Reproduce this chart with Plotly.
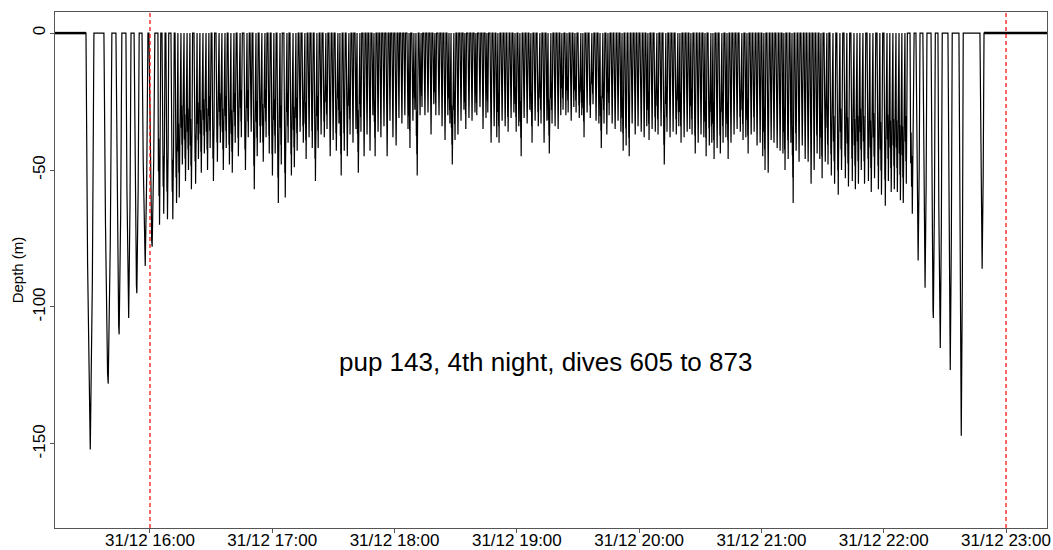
import numpy as np
import pandas as pd
import plotly.graph_objects as go

# Reference clock: minutes below are counted from 31/12 16:00
t0 = pd.Timestamp("2016-12-31 16:00:00")

# Dive start times (minutes after 16:00)
dive_start = [
    -31.4, -22.6, -16.7, -11.8, -7.8, -3.9, -0.5,
    3.9, 5.9, 7.8, 10.3, 12.3, 13.7, 15.2, 16.7, 18.2, 19.6,
    21.6, 23.1, 24.5, 26.0, 27.5, 28.9, 30.4, 32.4, 33.9, 35.3,
    36.8, 38.3, 39.7, 41.2, 42.7, 44.2, 46.1, 47.6,
    49.1, 50.5, 52.0, 53.5, 54.9, 56.4, 57.9, 59.4, 60.8, 62.3,
    63.8, 65.7, 67.2, 68.7, 70.2, 71.6, 73.1, 74.6, 76.0, 77.5,
    79.0, 80.5, 81.9, 83.4, 84.9, 86.3, 87.8, 89.3, 90.8, 92.2,
    93.2, 94.7, 96.2, 97.6,
    99.1, 100.6, 101.6, 103.0, 104.5, 106.0, 107.4, 108.9, 109.9, 111.4,
    112.8, 114.3, 115.8, 117.3, 118.7, 120.2, 121.7, 123.1, 124.6, 126.1,
    127.1, 128.5, 129.5, 130.5, 132.0, 133.0, 134.4, 135.9, 137.4, 138.8,
    139.8, 141.3, 142.8, 144.2, 145.7, 146.7, 147.7, 149.1, 150.6, 152.1,
    153.6, 154.5, 156.0, 157.5, 159.0, 159.9, 161.4, 162.9, 164.4, 165.3,
    166.8, 168.3, 169.7, 170.7, 172.2, 173.7, 175.1, 176.6, 178.1, 179.1,
    180.5, 181.5, 183.0, 184.5, 185.9, 186.9, 188.4, 189.9, 191.3, 192.8,
    194.3, 195.3, 196.7, 198.2, 199.7, 201.1, 202.1, 203.6, 204.6, 206.1,
    207.5, 208.5, 210.0, 211.4, 212.4, 213.9, 215.4, 216.8, 218.3, 219.8,
    220.8, 222.2, 223.7, 224.7, 226.2, 227.6, 229.1, 230.6, 231.6, 233.0,
    234.5, 236.0, 237.5, 238.9, 240.4, 241.9, 243.3, 244.3, 245.8, 247.3,
    248.7,
    250.2, 251.7, 253.1, 254.6, 256.1, 257.6, 259.0, 260.0, 261.5, 263.0,
    264.4, 265.4, 266.9, 268.4, 269.8, 271.3, 272.3, 273.8, 275.2, 276.2,
    277.7, 279.2, 280.6, 282.1, 283.1, 284.5, 286.0, 287.5, 289.0, 290.4,
    291.9, 292.9, 294.4, 295.8, 297.3, 298.8, 300.2, 301.2, 302.7, 304.2,
    305.6, 307.1, 308.6, 310.1, 311.0, 312.5, 314.0, 315.0, 316.4, 317.9,
    319.4, 320.9, 322.3, 323.8, 325.3, 326.7, 328.2, 329.2, 330.7, 332.1,
    333.6, 335.1, 337.0, 338.5, 340.5, 341.9, 343.9, 345.4, 346.9, 348.3,
    349.8, 351.8, 353.2, 354.7, 356.7, 358.1, 360.1, 361.6, 363.0, 364.5,
    366.0, 367.5, 368.9, 370.4,
    372.9, 375.8, 379.2, 383.2, 386.6, 391.5, 396.9, 407.2,
]

# Maximum depth of each dive (m)
dive_depth = [
    152, 128, 110, 104, 95, 85, 78,
    70, 66, 68, 68, 62, 60, 48, 54, 50, 57,
    55, 46, 51, 44, 50, 42, 54, 47, 40, 50,
    42, 48, 51, 40, 45, 38, 50, 38,
    36, 57, 45, 40, 47, 38, 44, 52, 44, 62,
    48, 60, 40, 52, 49, 43, 36, 40, 46, 38,
    42, 54, 42, 37, 38, 35, 45, 39, 43, 33,
    52, 43, 45, 37,
    40, 35, 51, 36, 45, 37, 43, 30, 45, 36,
    38, 34, 45, 32, 38, 41, 31, 33, 30, 35,
    42, 32, 28, 52, 30, 27, 30, 29, 37, 26,
    30, 30, 34, 39, 30, 33, 48, 39, 37, 32,
    28, 35, 31, 32, 29, 30, 27, 35, 31, 29,
    40, 34, 38, 40, 32, 34, 36, 31, 29, 36,
    34, 45, 31, 33, 28, 40, 32, 34, 33, 40,
    32, 44, 33, 34, 35, 30, 28, 30, 29, 32,
    27, 29, 31, 30, 38, 29, 31, 26, 32, 33,
    42, 33, 37, 30, 33, 35, 32, 36, 43, 41,
    45, 33, 37, 34, 36, 38, 34, 39, 35, 36,
    37,
    34, 48, 36, 38, 36, 37, 34, 40, 38, 36,
    35, 37, 44, 40, 37, 38, 45, 41, 40, 46,
    42, 44, 40, 38, 46, 40, 37, 35, 36, 39,
    38, 44, 37, 36, 41, 40, 45, 50, 51, 39,
    40, 42, 43, 44, 50, 46, 40, 62, 43, 47,
    41, 46, 47, 55, 50, 44, 46, 53, 47, 48,
    52, 55, 59, 50, 53, 56, 54, 57, 55, 50,
    55, 54, 58, 53, 57, 59, 63, 54, 58, 57,
    58, 61, 62, 55,
    66, 83, 93, 104, 115, 123, 147, 86,
]

# Dive durations (min)
dive_duration = [
    3.9, 3.9, 2.9, 2.5, 2.5, 2.9, 2.9,
    1.4, 1.5, 1.4, 1.6, 1.3, 1.2, 1.2, 1.3, 1.2, 1.3,
    1.4, 1.2, 1.2, 1.2, 1.3, 1.1, 1.3, 1.2, 1.1, 1.2,
    1.1, 1.2, 1.2, 1.1, 1.2, 1.1, 1.3, 1.1,
    1.0, 1.2, 1.1, 1.1, 1.2, 1.0, 1.1, 1.2, 1.1, 1.2,
    1.1, 1.2, 1.0, 1.2, 1.1, 1.1, 1.0, 1.1, 1.1, 1.0,
    1.1, 1.2, 1.1, 1.0, 1.1, 1.0, 1.1, 1.0, 1.1, 0.9,
    1.1, 1.1, 1.1, 1.0,
    0.9, 0.8, 1.1, 0.9, 1.0, 0.9, 1.0, 0.8, 1.0, 0.9,
    0.9, 0.9, 1.0, 0.8, 0.9, 1.0, 0.8, 0.9, 0.8, 0.9,
    0.8, 0.9, 0.8, 1.1, 0.9, 0.8, 0.9, 0.9, 0.9, 0.8,
    0.8, 0.9, 0.9, 1.0, 0.8, 0.8, 1.1, 1.0, 0.9, 0.9,
    0.8, 0.8, 0.9, 0.9, 0.8, 0.8, 0.9, 0.9, 0.8, 0.8,
    1.0, 1.0, 0.8, 1.0, 1.0, 1.0, 1.1, 1.0, 0.8, 1.0,
    0.8, 1.1, 1.0, 1.0, 0.8, 1.0, 1.0, 1.1, 1.0, 1.0,
    0.8, 1.1, 1.0, 1.0, 1.0, 0.8, 1.0, 0.8, 1.0, 1.0,
    0.8, 1.0, 1.1, 0.8, 1.0, 1.0, 1.1, 1.0, 1.0, 0.8,
    1.1, 1.0, 0.8, 1.0, 1.0, 1.1, 1.0, 0.8, 1.0, 1.1,
    1.1, 1.0, 1.0, 1.0, 1.1, 1.0, 0.8, 1.0, 1.0, 1.1,
    1.0,
    1.0, 1.1, 1.0, 1.0, 1.0, 1.1, 0.8, 1.0, 1.0, 1.0,
    0.8, 1.0, 1.1, 1.0, 1.0, 0.8, 1.0, 1.1, 0.8, 1.0,
    1.0, 1.1, 1.0, 0.8, 1.0, 1.0, 1.0, 1.0, 1.1, 1.0,
    0.8, 1.0, 1.0, 1.1, 1.0, 1.0, 0.8, 1.0, 1.1, 1.0,
    1.0, 1.1, 1.0, 0.8, 1.0, 1.1, 0.8, 1.0, 1.1, 1.0,
    1.1, 1.0, 1.1, 1.0, 1.0, 1.1, 0.8, 1.0, 1.1, 1.0,
    1.2, 1.4, 1.2, 1.4, 1.2, 1.4, 1.2, 1.2, 1.2, 1.2,
    1.4, 1.2, 1.2, 1.4, 1.2, 1.4, 1.2, 1.2, 1.2, 1.2,
    1.2, 1.2, 1.2, 1.2,
    2.0, 2.0, 2.0, 2.1, 2.1, 2.1, 2.1, 2.0,
]

# Night window (minutes after 16:00)
night_bounds = [0, 420]
# Recording window shown (minutes after 16:00)
record_window = [-46.6, 440.1]

hour_ticks = ["16:00", "17:00", "18:00", "19:00", "20:00", "21:00", "22:00", "23:00"]
depth_ticks = [0, -50, -100, -150]
label_text = "pup 143, 4th night, dives 605 to 873"

# Dive outline, as fractions of duration / max depth.
# Deep dives are a plain V; shallower ones keep a wiggly bottom phase.
deep_t = np.array([0.0, 0.2, 0.46, 0.54, 0.8, 1.0])
deep_d = np.array([0.0, 0.55, 0.97, 1.0, 0.6, 0.0])
shallow_t = np.array([0.0, 0.16, 0.26, 0.38, 0.47, 0.56, 0.68, 0.8, 1.0])
shallow_d = np.array([0.0, 0.72, 0.55, 0.85, 0.68, 1.0, 0.78, 0.62, 0.0])

ts, ds = [record_window[0]], [0.0]
for s, d, dur in zip(dive_start, dive_depth, dive_duration):
    pt, pd_ = (deep_t, deep_d) if d >= 75 else (shallow_t, shallow_d)
    ts.extend(s + pt * dur)
    ds.extend(-d * pd_)
ts.append(record_window[1])
ds.append(0.0)


def to_time(m):
    return t0 + pd.to_timedelta(np.asarray(m, dtype=float), unit="min")


fig = go.Figure()

# Surface periods before the first and after the last dive
first_start = dive_start[0]
last_end = dive_start[-1] + dive_duration[-1]
for a, b in [(record_window[0], first_start), (last_end, record_window[1])]:
    fig.add_trace(go.Scatter(
        x=to_time([a, b]), y=[0, 0], mode="lines",
        line=dict(color="black", width=2.5), hoverinfo="skip", showlegend=False))

fig.add_trace(go.Scatter(
    x=to_time(ts), y=ds, mode="lines",
    line=dict(color="black", width=1.2),
    showlegend=False))

for nb in night_bounds:
    tt = to_time([nb])[0]
    fig.add_shape(type="line", xref="x", yref="paper", x0=tt, x1=tt, y0=0, y1=1,
                  line=dict(color="red", width=1.2, dash="4px,3px"), layer="above")

fig.add_annotation(x=to_time([194])[0], y=-120, text=label_text, showarrow=False,
                   font=dict(size=26, color="black"))

tick_times = [pd.Timestamp("2016-12-31 " + h) for h in hour_ticks]

fig.update_layout(
    width=1053, height=550,
    margin=dict(l=55, r=6, t=12, b=22),
    plot_bgcolor="white", paper_bgcolor="white",
    font=dict(family="Arial, Liberation Sans, sans-serif", color="black", size=17),
    xaxis=dict(
        range=list(to_time(record_window)),
        tickvals=tick_times, tickformat="%d/%m %H:%M",
        showgrid=False, zeroline=False, automargin=False,
        showline=True, mirror=True, linecolor="#555555", linewidth=1,
        ticks="outside", ticklen=4, tickcolor="#555555",
        tickfont=dict(size=17), ticklabelstandoff=-7,
    ),
    yaxis=dict(
        range=[-180.7, 7.7],
        tickvals=depth_ticks, ticktext=[str(v) for v in depth_ticks],
        tickangle=-90, automargin=False,
        showgrid=False, zeroline=False,
        showline=True, mirror=True, linecolor="#555555", linewidth=1,
        ticks="outside", ticklen=4, tickcolor="#555555",
        tickfont=dict(size=17), ticklabelstandoff=-2,
        title=dict(text="Depth (m)", font=dict(size=15), standoff=2),
    ),
)

fig.write_html("out.html")
